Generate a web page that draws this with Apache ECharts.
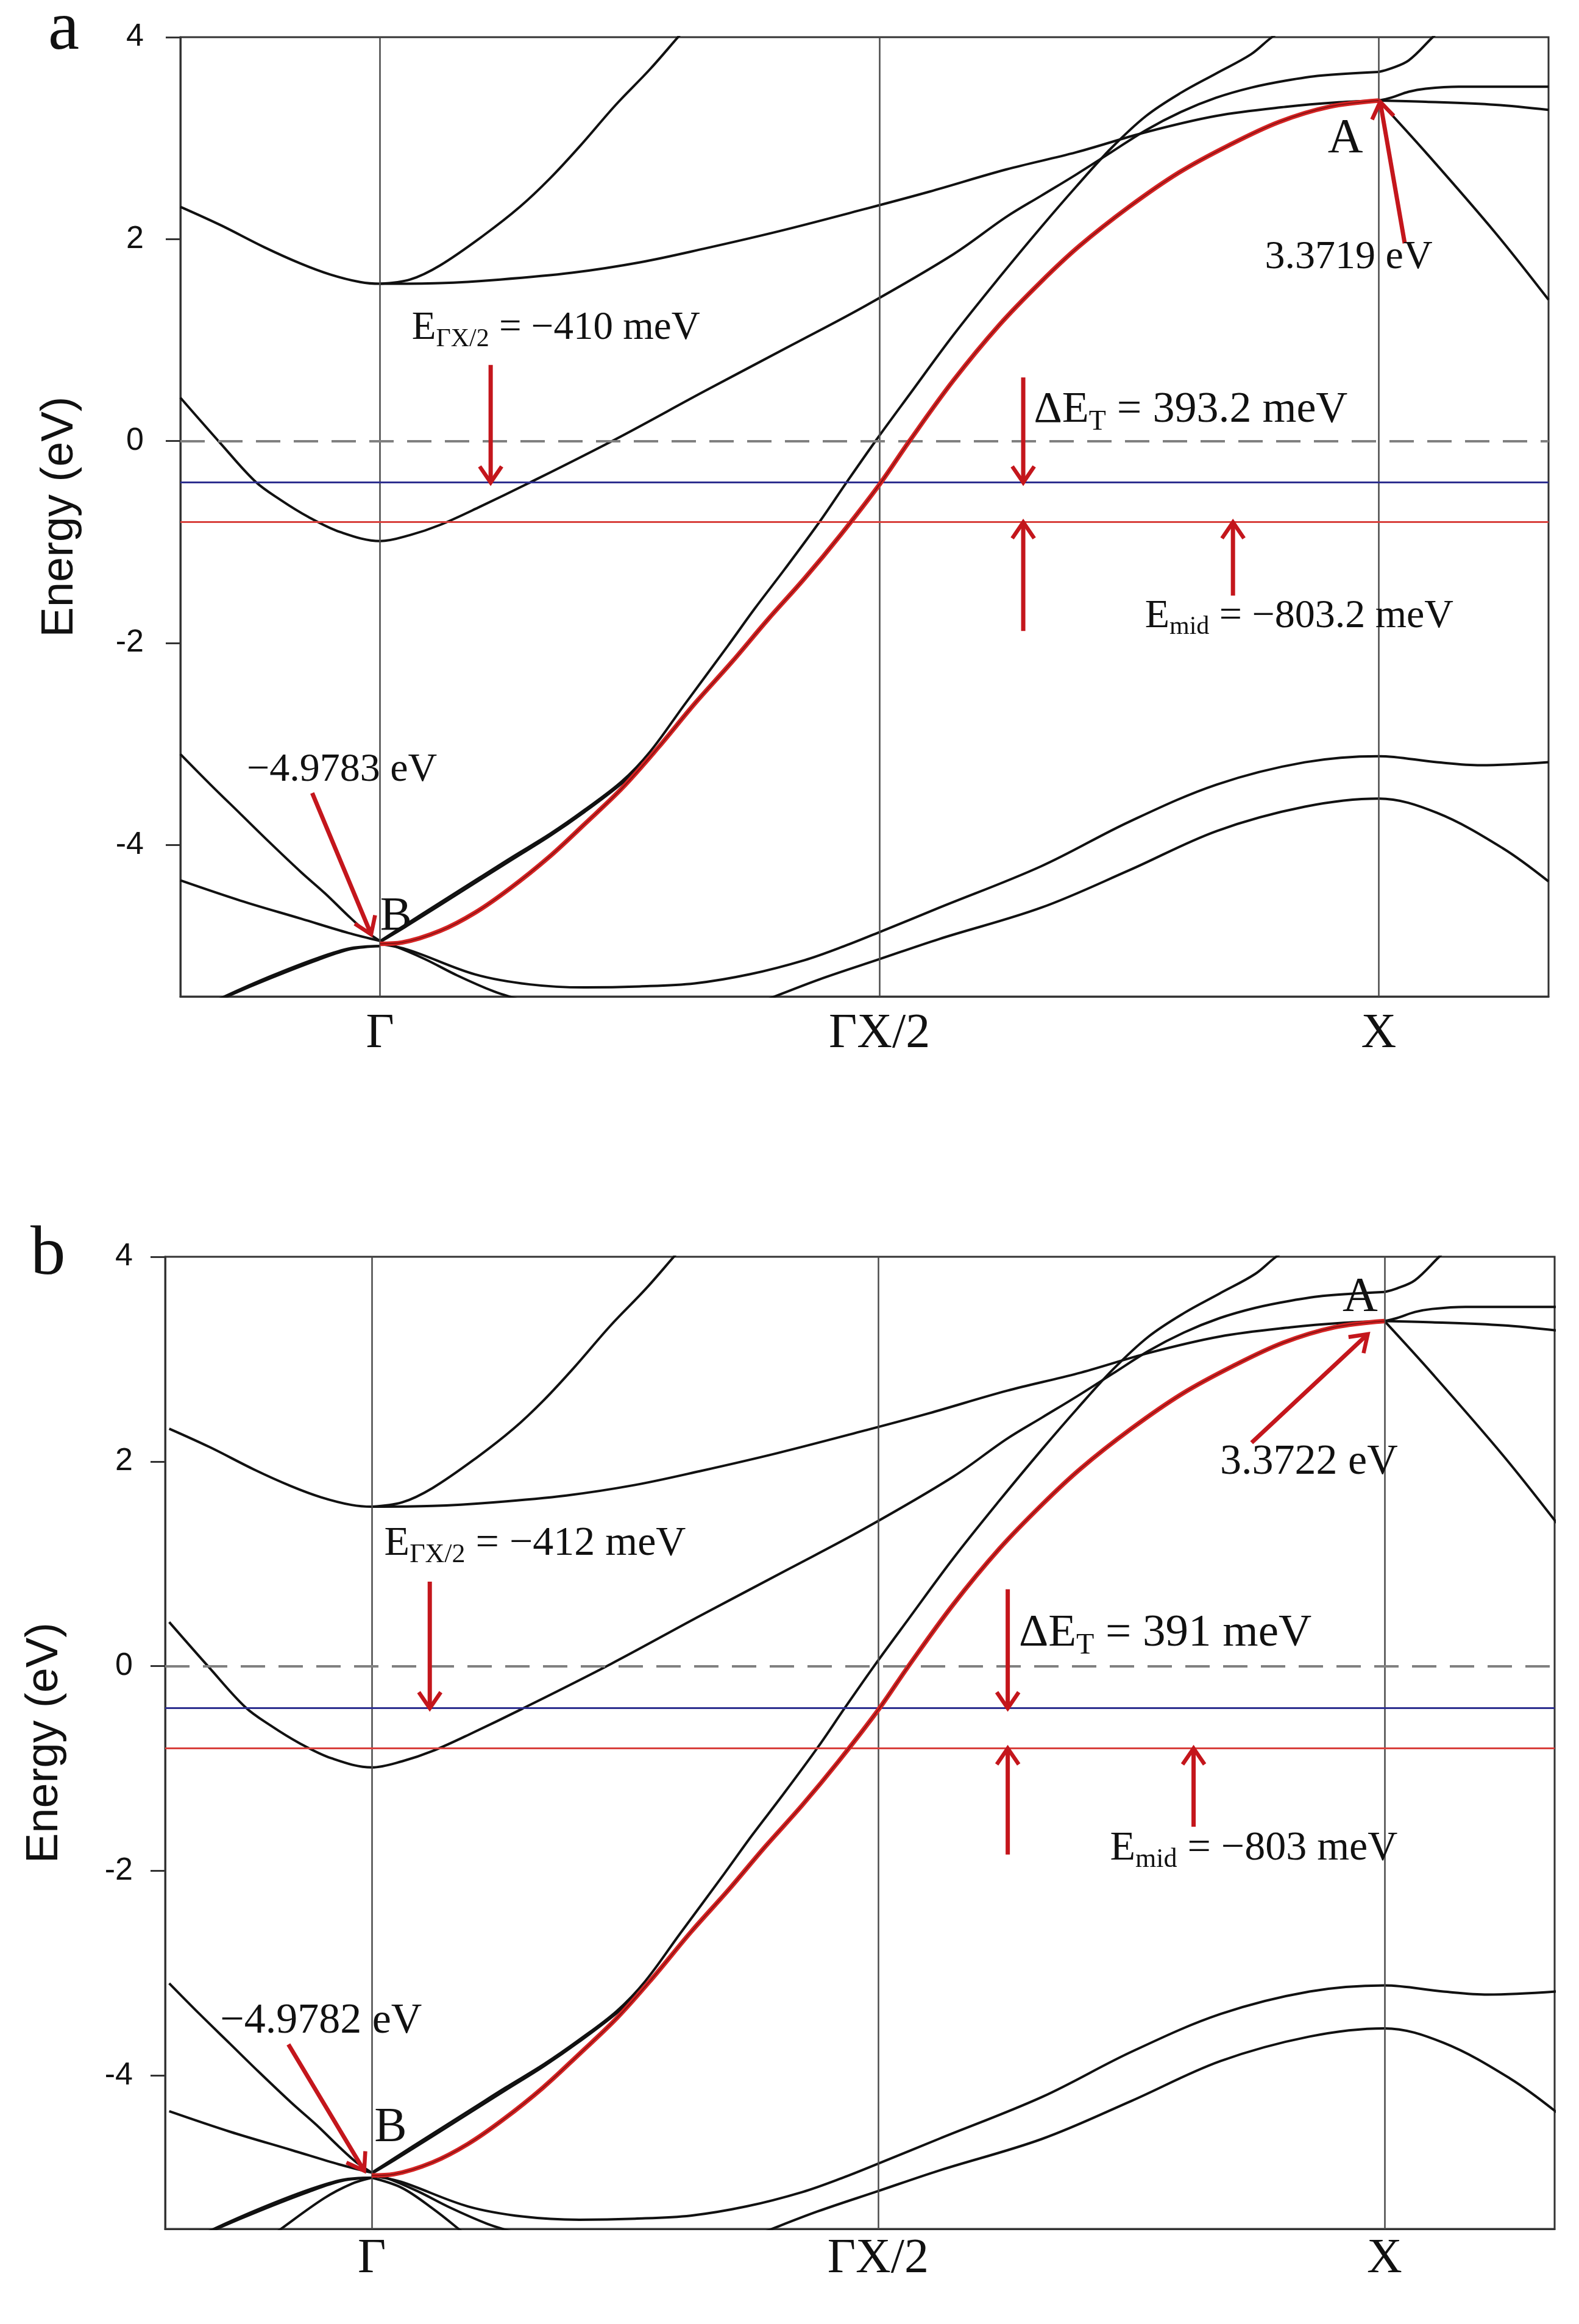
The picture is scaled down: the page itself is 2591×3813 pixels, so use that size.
<!DOCTYPE html>
<html><head><meta charset="utf-8">
<script src="https://cdn.jsdelivr.net/npm/echarts@6/dist/echarts.min.js"></script>
<style>html,body{margin:0;padding:0;background:#fff}#c{width:2591px;height:3813px}</style>
</head><body><div id="c"></div>
<script>
// ================= DATA =================
const kTicks = [0, 0.5, 1];
const kTickLabels = ['Γ', 'ΓX/2', 'X'];
const eTicks = [-4, -2, 0, 2, 4];

// horizontal reference lines: [Fermi (0), E_ΓX/2, E_mid]
const hLinesA = [0, -0.410, -0.8032];
const hLinesB = [0, -0.412, -0.803];

// extremal points A (at X) and B (at Γ)
const pointA_a = [1, 3.3719], pointB_a = [0, -4.9783];
const pointA_b = [1, 3.3722], pointB_b = [0, -4.9782];

// band lines: [k (Γ=0, X=1), energy eV]
const bandUpperLeft = [[-0.2,2.32],[-0.16,2.14],[-0.116,1.92],[-0.08,1.76],[-0.05,1.65],[-0.02,1.575],[0,1.558]];
const bandUpperFlat = [[0,1.558],[0.06,1.565],[0.12,1.6],[0.192,1.667],[0.26,1.77],[0.324,1.905],[0.4,2.08],[0.486,2.3],[0.55,2.47],[0.627,2.69],[0.697,2.86],[0.767,3.06],[0.837,3.22],[0.907,3.31],[0.96,3.355],[1,3.372]];
const bandUpperSteep = [[0,1.558],[0.03,1.6],[0.06,1.74],[0.104,2.04],[0.14,2.32],[0.17,2.6],[0.2,2.92],[0.236,3.33],[0.27,3.68],[0.3,4.02],[0.31,4.13]];
const bandVLeft = [[-0.2,0.43],[-0.16,-0.02],[-0.125,-0.4],[-0.1,-0.58],[-0.072,-0.75],[-0.04,-0.9],[0,-0.99]];
const bandVRight = [[0,-0.99],[0.03,-0.93],[0.06,-0.83],[0.1,-0.65],[0.148,-0.42],[0.236,0.02],[0.324,0.49],[0.412,0.95],[0.486,1.34],[0.574,1.85],[0.627,2.22],[0.662,2.43],[0.697,2.64],[0.732,2.86],[0.767,3.08],[0.802,3.26],[0.837,3.4],[0.872,3.5],[0.907,3.57],[0.942,3.62],[1,3.656]];
const bandXUp = [[1,3.656],[1.012,3.69],[1.03,3.77],[1.054,4.0],[1.07,4.15]];
const bandXFlatHigh = [[1,3.372],[1.012,3.4],[1.03,3.46],[1.047,3.49],[1.08,3.51],[1.17,3.51]];
const bandXFlatLow = [[1,3.372],[1.047,3.36],[1.117,3.33],[1.17,3.28]];
const bandXDown = [[1,3.372],[1.047,2.86],[1.117,2.06],[1.17,1.4]];
const bandSLeft = [[-0.2,-3.1],[-0.17,-3.4],[-0.14,-3.69],[-0.11,-3.98],[-0.079,-4.27],[-0.055,-4.48],[-0.032,-4.7],[-0.015,-4.85],[0,-4.95]];
const bandSRight = [[0,-4.95],[0.022,-4.81],[0.06,-4.57],[0.1,-4.32],[0.132,-4.12],[0.17,-3.89],[0.205,-3.65],[0.242,-3.37],[0.27,-3.08],[0.304,-2.62],[0.348,-2.03],[0.375,-1.66],[0.405,-1.27],[0.44,-0.8],[0.467,-0.41],[0.496,0.0],[0.53,0.46],[0.574,1.05],[0.62,1.62],[0.662,2.12],[0.697,2.52],[0.732,2.9],[0.767,3.22],[0.802,3.45],[0.837,3.64],[0.872,3.83],[0.893,4.0],[0.91,4.1]];
const bandSCompanion = [[0,-4.96],[0.022,-4.83],[0.06,-4.595],[0.1,-4.345],[0.132,-4.145],[0.17,-3.91],[0.205,-3.67],[0.242,-3.39],[0.262,-3.2]];
const bandBLeft = [[-0.2,-4.35],[-0.14,-4.55],[-0.079,-4.73],[-0.032,-4.87],[0,-4.95]];
const bandHump1 = [[-0.17,-5.58],[-0.151,-5.49],[-0.11,-5.32],[-0.063,-5.14],[-0.029,-5.03],[0,-5.0]];
const bandHump2 = [[-0.176,-5.6],[-0.156,-5.5],[-0.11,-5.3],[-0.063,-5.12],[-0.029,-5.02],[0,-5.0]];
const bandDesc = [[0,-4.97],[0.014,-5.0],[0.045,-5.13],[0.077,-5.29],[0.114,-5.45],[0.139,-5.53],[0.15,-5.57]];
const bandLow1 = [[0,-4.98],[0.029,-5.04],[0.095,-5.28],[0.15,-5.38],[0.205,-5.41],[0.26,-5.4],[0.315,-5.37],[0.37,-5.28],[0.425,-5.14],[0.465,-5.0],[0.503,-4.85],[0.56,-4.62],[0.662,-4.21],[0.75,-3.77],[0.838,-3.4],[0.926,-3.18],[1,-3.12],[1.058,-3.18],[1.102,-3.21],[1.17,-3.18]];
const bandLow2 = [[0.37,-5.6],[0.39,-5.52],[0.44,-5.33],[0.5,-5.13],[0.56,-4.93],[0.662,-4.62],[0.75,-4.25],[0.838,-3.86],[0.926,-3.62],[1,-3.54],[1.058,-3.68],[1.124,-4.03],[1.17,-4.36]];
const bandExtraLeftB = [[-0.1,-5.58],[-0.091,-5.51],[-0.047,-5.2],[-0.02,-5.06],[0,-5.0]];
const bandExtraRightB = [[0,-5.0],[0.03,-5.1],[0.06,-5.3],[0.087,-5.51],[0.095,-5.58]];
const bandRed = [[0,-4.978],[0.022,-4.965],[0.06,-4.85],[0.095,-4.67],[0.13,-4.43],[0.169,-4.12],[0.205,-3.79],[0.242,-3.44],[0.278,-3.04],[0.315,-2.6],[0.352,-2.19],[0.388,-1.77],[0.425,-1.36],[0.461,-0.93],[0.5,-0.43],[0.53,0.0],[0.574,0.6],[0.62,1.15],[0.662,1.58],[0.7,1.93],[0.75,2.32],[0.8,2.66],[0.85,2.93],[0.9,3.16],[0.95,3.31],[1,3.3719]];

// ================= LAYOUT / STYLE =================
const W = 2591, H = 3813;
const SERIF = '"Liberation Serif", "Times New Roman", serif';
const SANS = '"Liberation Sans", Arial, sans-serif';
const ARROW = '#c4161c';
const panels = [
  { grid: {left: 296, top: 61, width: 2245, height: 1574}, xmin: -0.2, xmax: 1.17, labelMargin: 60, xLabelMargin: 22, h: hLinesA, extra: false },
  { grid: {left: 271, top: 2062, width: 2280, height: 1595}, xmin: -0.204, xmax: 1.168, labelMargin: 53, xLabelMargin: 10, h: hLinesB, extra: true }
];

const bandsCommon = [
  bandUpperLeft.concat(bandUpperFlat.slice(1)), bandUpperSteep,
  bandVLeft.concat(bandVRight.slice(1)), bandXUp, bandXFlatHigh, bandXFlatLow, bandXDown,
  bandSLeft, bandSRight, bandSCompanion, bandBLeft, bandHump1, bandHump2, bandDesc, bandLow1, bandLow2
];

const grids = [], xAxes = [], yAxes = [], series = [];
panels.forEach((p, i) => {
  grids.push(Object.assign({show: true, borderColor: '#333', borderWidth: 3, backgroundColor: 'transparent'}, p.grid));
  xAxes.push({
    type: 'value', gridIndex: i, min: p.xmin, max: p.xmax,
    axisLine: {show: true, onZero: false, lineStyle: {color: '#333', width: 3}},
    axisTick: {show: false}, splitLine: {show: false},
    axisLabel: {show: true, customValues: kTicks, margin: p.xLabelMargin,
      formatter: v => kTickLabels[kTicks.indexOf(v)] || '',
      fontFamily: SERIF, fontSize: 80, color: '#111'}
  });
  yAxes.push({
    type: 'value', gridIndex: i, min: -5.5, max: 4,
    name: 'Energy (eV)', nameLocation: 'middle', nameGap: 160, nameRotate: 90,
    nameTextStyle: {fontFamily: SANS, fontSize: 74, color: '#111'},
    axisLine: {show: true, onZero: false, lineStyle: {color: '#333', width: 3}},
    axisTick: {show: true, inside: false, length: 24, customValues: eTicks, lineStyle: {color: '#333', width: 3}},
    splitLine: {show: false},
    axisLabel: {show: true, customValues: eTicks, margin: p.labelMargin, fontFamily: SANS, fontSize: 52, color: '#111'}
  });
  // reference lines (vertical symmetry points + horizontal energy lines)
  series.push({
    type: 'line', xAxisIndex: i, yAxisIndex: i, data: [], silent: true, animation: false, z: 1,
    markLine: {silent: true, animation: false, symbol: ['none', 'none'], label: {show: false},
      data: kTicks.map(v => ({xAxis: v, lineStyle: {color: '#4a4a4a', width: 2.5, type: 'solid'}}))}
  });
  series.push({
    type: 'line', xAxisIndex: i, yAxisIndex: i, data: [], silent: true, animation: false, z: 4,
    markLine: {silent: true, animation: false, symbol: ['none', 'none'], label: {show: false},
      data: [
        {yAxis: p.h[0], lineStyle: {color: '#808080', width: 4, type: [40, 22]}},
        {yAxis: p.h[1], lineStyle: {color: '#2d2f8f', width: 3, type: 'solid'}},
        {yAxis: p.h[2], lineStyle: {color: '#d8403c', width: 3, type: 'solid'}}
      ]}
  });
  const bands = p.extra ? bandsCommon.concat([bandExtraLeftB, bandExtraRightB]) : bandsCommon;
  bands.forEach(b => series.push({
    type: 'line', xAxisIndex: i, yAxisIndex: i, data: b, smooth: 0.35,
    symbol: 'none', silent: true, animation: false, clip: true, z: 3,
    lineStyle: {color: '#111', width: 4}
  }));
  series.push({
    type: 'line', xAxisIndex: i, yAxisIndex: i, data: bandRed, smooth: 0.35,
    symbol: 'none', silent: true, animation: false, clip: true, z: 5,
    lineStyle: {color: '#d62424', width: 7.5}
  });
  series.push({
    type: 'line', xAxisIndex: i, yAxisIndex: i, data: bandRed, smooth: 0.35,
    symbol: 'none', silent: true, animation: false, clip: true, z: 6,
    lineStyle: {color: '#6a0d0d', width: 2, opacity: 0.7}
  });
});

const chart = echarts.init(document.getElementById('c'), null, {renderer: 'canvas', width: W, height: H});
chart.setOption({backgroundColor: '#fff', animation: false, grid: grids, xAxis: xAxes, yAxis: yAxes, series: series});

// ================= ANNOTATIONS =================
const fmt = v => (v < 0 ? '\u2212' : '') + Math.abs(v);
const annotations = [
  { // panel a
    texts: [
      {at: [0.0317, 0.996], fs: 65, parts: ['E', {sub: 'ΓX/2'}, ' = ' + fmt(Math.round(hLinesA[1] * 1000)) + ' meV']},
      {at: [0.6546, 0.175], fs: 72, parts: ['ΔE', {sub: 'T'}, ' = ' + ((hLinesA[1] - hLinesA[2]) * 1000).toFixed(1) + ' meV']},
      {at: [0.7658, -1.856], fs: 66, parts: ['E', {sub: 'mid'}, ' = ' + fmt((hLinesA[2] * 1000).toFixed(1) * 1) + ' meV']},
      {at: [0.886, 1.699], fs: 66, parts: [pointA_a[1].toFixed(4) + ' eV']},
      {at: [0.949, 2.843], fs: 80, parts: ['A']},
      {at: [-0.1335, -3.378], fs: 66, parts: [fmt(pointB_a[1].toFixed(4) * 1) + ' eV']},
      {at: [0.0, -4.856], fs: 78, parts: ['B']}
    ],
    arrows: [
      [[0.1107, 0.754], [0.1107, hLinesA[1]]],
      [[0.644, 0.63], [0.644, hLinesA[1]]],
      [[0.644, -1.88], [0.644, hLinesA[2]]],
      [[0.854, -1.53], [0.854, hLinesA[2]]],
      [[1.026, 1.959], [1.0014, 3.36]],
      [[-0.068, -3.485], [-0.009, -4.884]]
    ],
    letter: {text: 'a', x: 79, base: 84}
  },
  { // panel b
    texts: [
      {at: [0.0124, 1.072], fs: 68, parts: ['E', {sub: 'ΓX/2'}, ' = ' + fmt(Math.round(hLinesB[1] * 1000)) + ' meV']},
      {at: [0.639, 0.183], fs: 75, parts: ['ΔE', {sub: 'T'}, ' = ' + Math.round((hLinesB[1] - hLinesB[2]) * 1000) + ' meV']},
      {at: [0.729, -1.906], fs: 68, parts: ['E', {sub: 'mid'}, ' = ' + fmt(Math.round(hLinesB[2] * 1000)) + ' meV']},
      {at: [0.8377, 1.862], fs: 70, parts: [pointA_b[1].toFixed(4) + ' eV']},
      {at: [0.9586, 3.453], fs: 80, parts: ['A']},
      {at: [-0.1497, -3.599], fs: 70, parts: [fmt(pointB_b[1].toFixed(4) * 1) + ' eV']},
      {at: [0.0025, -4.659], fs: 80, parts: ['B']}
    ],
    arrows: [
      [[0.0573, 0.826], [0.0573, hLinesB[1]]],
      [[0.628, 0.751], [0.628, hLinesB[1]]],
      [[0.628, -1.842], [0.628, hLinesB[2]]],
      [[0.8115, -1.57], [0.8115, hLinesB[2]]],
      [[0.8688, 2.183], [0.9835, 3.244]],
      [[-0.0823, -3.697], [-0.0075, -4.931]]
    ],
    letter: {text: 'b', x: 50, base: 2094}
  }
];

const mctx = document.createElement('canvas').getContext('2d');
function textW(t, fs) { mctx.font = fs + 'px ' + SERIF; return mctx.measureText(t).width; }

const graphics = [];
function addText(t, x, base, fs) {
  graphics.push({type: 'text', x: x, y: base - 0.3 * fs, z: 100, silent: true,
    style: {text: t, fontFamily: SERIF, fontSize: fs, fill: '#111', align: 'left', verticalAlign: 'middle'}});
}
annotations.forEach((an, i) => {
  an.texts.forEach(tx => {
    const px = chart.convertToPixel({gridIndex: i}, tx.at);
    let x = px[0];
    tx.parts.forEach(pt => {
      if (typeof pt === 'string') { addText(pt, x, px[1], tx.fs); x += textW(pt, tx.fs); }
      else { const sfs = Math.round(tx.fs * 0.64); addText(pt.sub, x, px[1] + tx.fs * 0.16, sfs); x += textW(pt.sub, sfs); }
    });
  });
  an.arrows.forEach(ar => {
    const p0 = chart.convertToPixel({gridIndex: i}, ar[0]);
    const p1 = chart.convertToPixel({gridIndex: i}, ar[1]);
    const dx = p1[0] - p0[0], dy = p1[1] - p0[1], len = Math.hypot(dx, dy);
    const ux = dx / len, uy = dy / len, L = 32, th = 0.6;
    const c = Math.cos(th), s = Math.sin(th);
    const a1 = [p1[0] - L * (ux * c - uy * s), p1[1] - L * (uy * c + ux * s)];
    const a2 = [p1[0] - L * (ux * c + uy * s), p1[1] - L * (uy * c - ux * s)];
    graphics.push({type: 'line', z: 90, silent: true, shape: {x1: p0[0], y1: p0[1], x2: p1[0] - ux * 2, y2: p1[1] - uy * 2},
      style: {stroke: ARROW, lineWidth: 7}});
    graphics.push({type: 'polyline', z: 90, silent: true, shape: {points: [a1, p1, a2]},
      style: {stroke: ARROW, lineWidth: 6.5, fill: null, lineJoin: 'miter'}});
  });
  graphics.push({type: 'text', x: an.letter.x, y: an.letter.base - 0.3 * 115, z: 100, silent: true,
    style: {text: an.letter.text, fontFamily: SERIF, fontSize: 115, fill: '#111', align: 'left', verticalAlign: 'middle'}});
});
chart.setOption({graphic: graphics});
</script></body></html>
